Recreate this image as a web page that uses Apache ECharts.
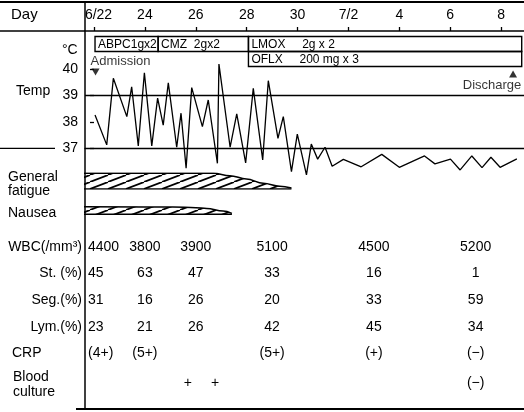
<!DOCTYPE html>
<html>
<head>
<meta charset="utf-8">
<script src="https://cdn.jsdelivr.net/npm/echarts@6/dist/echarts.min.js"></script>
<style>
  html, body {margin: 0; padding: 0; background: #fff;}
  #chart {width: 524px; height: 412px;}
</style>
</head>
<body>
<div id="chart"></div>
<script>
// day axis: days after 6/22
const dayTicks = [0, 2, 4, 6, 8, 10, 12, 14, 16];
const dayLabels = ['6/22', '24', '26', '28', '30', '7/2', '4', '6', '8'];

// body temperature (day offset, °C)
const tempDays = [0.04, 0.5, 0.76, 1.29, 1.48, 1.74, 1.98, 2.27, 2.5, 2.72, 2.92, 3.25, 3.42, 3.62,
  3.84, 4.26, 4.49, 4.85, 4.91, 5.35, 5.61, 5.96, 6.26, 6.63, 6.85, 7.23, 7.44, 7.76, 7.99, 8.35,
  8.54, 8.79, 9.08, 9.36, 9.8, 10.5, 11.31, 12.0, 12.99, 13.4, 14.01, 14.39, 14.85, 15.25, 15.6,
  15.96, 16.62];
const temps = [38.26, 37.13, 39.65, 38.2, 39.33, 37.09, 39.86, 37.09, 38.9, 37.88, 39.48, 37.04,
  38.33, 36.25, 39.3, 37.82, 38.83, 36.43, 40.19, 37.04, 38.3, 36.45, 39.27, 36.56, 39.56, 37.38,
  38.2, 36.12, 37.54, 35.99, 37.16, 36.59, 37.04, 36.32, 36.58, 36.3, 36.77, 36.28, 36.71, 36.41,
  36.59, 36.18, 36.71, 36.27, 36.66, 36.28, 36.6];

// drugs
const drugLabels = ['ABPC1gx2', 'CMZ  2gx2', 'LMOX     2g x 2', 'OFLX     200 mg x 3'];
const drugStart = [0.04, 2.52, 6.07, 6.07];
const drugEnd = [2.52, 6.07, 16.81, 16.81];
const drugRow = [0, 0, 0, 1];

// events
const eventNames = ['Admission', 'Discharge'];
const eventDays = [0.06, 16.47];
const eventTemps = [39.89, 39.81];

// symptoms (relative severity)
const fatigueDays = [-0.4, 4.69, 5.34, 5.99, 6.65, 7.3, 7.76];
const fatigue = [0.98, 0.98, 0.83, 0.63, 0.36, 0.17, 0.06];
const nauseaDays = [-0.4, 3.1, 4.0, 4.43, 5.07, 5.42];
const nausea = [0.47, 0.46, 0.41, 0.37, 0.2, 0.06];

// laboratory data
const labRows = ['WBC(/mm³)', 'St. (%)', 'Seg.(%)', 'Lym.(%)', 'CRP', 'Blood culture'];
const labDays = [0, 2, 4, 7, 11, 15];
const wbc = [4400, 3800, 3900, 5100, 4500, 5200];
const stab = [45, 63, 47, 33, 16, 1];
const seg = [31, 16, 26, 20, 33, 59];
const lym = [23, 21, 26, 42, 45, 34];
const crp = ['(4+)', '(5+)', '', '(5+)', '(+)', '(−)'];
const bloodDays = [3.69, 4.76, 15];
const blood = ['+', '+', '(−)'];

const FONT = '"Liberation Sans", Arial, sans-serif';
const xMin = -0.354, xMax = 16.9;
const LEFT = 85;

function hatch() {
  const c = document.createElement('canvas');
  c.width = 18; c.height = 7;
  const ctx = c.getContext('2d');
  ctx.strokeStyle = '#000';
  ctx.lineWidth = 1.7;
  [-18, 0, 18].forEach(function (dx) {
    ctx.beginPath();
    ctx.moveTo(dx, 7);
    ctx.lineTo(dx + 18, 0);
    ctx.stroke();
  });
  return {image: c, repeat: 'repeat'};
}
const pattern = hatch();

const labCells = [];
[wbc, stab, seg, lym, crp].forEach(function (row, r) {
  row.forEach(function (v, i) {
    if (v !== '') labCells.push({d: labDays[i], r: r, text: String(v), first: i === 0});
  });
});
blood.forEach(function (v, i) {
  labCells.push({d: bloodDays[i], r: 5, text: v, first: false});
});

const grids = [
  {left: LEFT, right: 0, top: 69.1, height: 79.2},   // temperature
  {left: LEFT, right: 0, top: 36.5, height: 30},     // drugs
  {left: LEFT, right: 0, top: 173, height: 16},      // fatigue
  {left: LEFT, right: 0, top: 198.3, height: 16},    // nausea
  {left: LEFT, right: 0, top: 233.3, height: 160.1}  // labs
];

function hiddenX(gi) {
  return {type: 'value', gridIndex: gi, min: xMin, max: xMax, show: false};
}

const bandLine = {color: '#000', width: 1.5};

const options = {
  backgroundColor: '#fff',
  animation: false,
  grid: grids,
  xAxis: [
    {
      type: 'value', gridIndex: 0, position: 'top', offset: 38.1, min: xMin, max: xMax,
      axisLine: {show: true, lineStyle: {color: '#000', width: 1.5}},
      axisTick: {show: true, length: 4, customValues: dayTicks, lineStyle: {color: '#000', width: 1.3}},
      axisLabel: {
        customValues: dayTicks, margin: 9, color: '#000', fontSize: 14, fontFamily: FONT,
        formatter: function (v) {
          const s = dayLabels[dayTicks.indexOf(v)];
          return v === 0 ? '{f|' + s + '}' : s;
        },
        rich: {f: {fontSize: 14, fontFamily: FONT, color: '#000', padding: [0, 0, 0, 9]}}
      },
      splitLine: {show: false}
    },
    {
      type: 'value', gridIndex: 0, position: 'bottom', min: xMin, max: xMax,
      axisLine: {show: true, lineStyle: {color: '#000', width: 1.3}},
      axisTick: {show: false}, axisLabel: {show: false}, splitLine: {show: false}
    },
    hiddenX(1), hiddenX(2), hiddenX(3), hiddenX(4)
  ],
  yAxis: [
    {
      type: 'value', gridIndex: 0, min: 37, max: 40, interval: 1,
      axisLine: {show: false},
      axisTick: {show: true, length: 4, lineStyle: {color: '#000', width: 1.3}},
      axisLabel: {color: '#000', fontSize: 14, fontFamily: FONT, margin: 7},
      splitLine: {show: false}
    },
    {type: 'category', gridIndex: 1, data: ['a', 'b'], inverse: true, show: false},
    {type: 'value', gridIndex: 2, min: 0, max: 1, show: false},
    {type: 'value', gridIndex: 3, min: 0, max: 1, show: false},
    {
      type: 'category', gridIndex: 4, data: labRows, inverse: true,
      axisLine: {show: false}, axisTick: {show: false}, splitLine: {show: false},
      axisLabel: {
        interval: 0, hideOverlap: false,
        align: 'left', margin: 73, color: '#000', fontSize: 14, fontFamily: FONT,
        formatter: function (v) {
          if (v === 'CRP') return '{l|' + v + '}';
          if (v === 'Blood culture') return '';
          return '{r|' + v + '}';
        },
        rich: {
          r: {width: 70, align: 'right', fontSize: 14, fontFamily: FONT, color: '#000'},
          l: {width: 70, align: 'left', fontSize: 14, fontFamily: FONT, color: '#000'}
        }
      }
    }
  ],
  series: [
    {
      type: 'line', xAxisIndex: 0, yAxisIndex: 0, clip: false,
      data: tempDays.map(function (d, i) { return [d, temps[i]]; }),
      showSymbol: false, lineStyle: {color: '#000', width: 1.3},
      markLine: {
        silent: true, symbol: 'none', label: {show: false},
        lineStyle: {color: '#000', width: 1.3, type: 'solid'},
        data: [{yAxis: 39}]
      }
    },
    {
      type: 'scatter', xAxisIndex: 0, yAxisIndex: 0, clip: false,
      symbol: 'triangle', symbolSize: [8, 7],
      itemStyle: {color: '#000'},
      data: eventDays.map(function (d, i) {
        return {
          value: [d, eventTemps[i]],
          symbolRotate: i === 0 ? 180 : 0,
          label: {
            show: true, formatter: eventNames[i], color: '#000', fontSize: 13, fontFamily: FONT,
            position: i === 0 ? 'top' : 'bottom', distance: 1,
            offset: i === 0 ? [25, 0] : [-21, 0]
          }
        };
      })
    },
    {
      type: 'custom', xAxisIndex: 2, yAxisIndex: 1,
      data: drugStart.map(function (s, i) { return [s, drugEnd[i], drugRow[i]]; }),
      renderItem: function (params, api) {
        const p0 = api.coord([api.value(0), api.value(2)]);
        const p1 = api.coord([api.value(1), api.value(2)]);
        const h = api.size([0, 1])[1];
        return {
          type: 'group',
          children: [
            {
              type: 'rect',
              shape: {x: p0[0], y: p0[1] - h / 2, width: p1[0] - p0[0], height: h},
              style: {fill: 'none', stroke: '#000', lineWidth: 1.4}
            },
            {
              type: 'text',
              style: {
                x: p0[0] + 3, y: p0[1] + 0.5, text: drugLabels[params.dataIndex],
                font: '12px ' + FONT, fill: '#000', verticalAlign: 'middle', align: 'left'
              }
            }
          ]
        };
      }
    },
    {
      type: 'line', xAxisIndex: 3, yAxisIndex: 2, smooth: 0.4, smoothMonotone: 'x',
      data: fatigueDays.map(function (d, i) { return [d, fatigue[i]]; }),
      showSymbol: false, lineStyle: bandLine,
      areaStyle: {color: pattern, origin: 'start', opacity: 1}
    },
    {
      type: 'line', xAxisIndex: 3, yAxisIndex: 2, showSymbol: false, lineStyle: bandLine,
      data: [[fatigueDays[0], 0], [fatigueDays[fatigueDays.length - 1], 0]]
    },
    {
      type: 'line', xAxisIndex: 4, yAxisIndex: 3, smooth: 0.4, smoothMonotone: 'x',
      data: nauseaDays.map(function (d, i) { return [d, nausea[i]]; }),
      showSymbol: false, lineStyle: bandLine,
      areaStyle: {color: pattern, origin: 'start', opacity: 1}
    },
    {
      type: 'line', xAxisIndex: 4, yAxisIndex: 3, showSymbol: false, lineStyle: bandLine,
      data: [[nauseaDays[0], 0], [nauseaDays[nauseaDays.length - 1], 0]]
    },
    {
      type: 'custom', xAxisIndex: 5, yAxisIndex: 4,
      data: labCells.map(function (c) { return [c.d, c.r]; }),
      renderItem: function (params, api) {
        const c = labCells[params.dataIndex];
        const p = api.coord([api.value(0), api.value(1)]);
        return {
          type: 'text',
          style: {
            x: c.first ? p[0] - 6 : p[0], y: c.r === 5 ? p[1] + 3 : p[1], text: c.text,
            font: '14px ' + FONT, fill: '#000',
            align: c.first ? 'left' : 'center', verticalAlign: 'middle'
          }
        };
      }
    }
  ],
  graphic: [
    {type: 'line', z: 100, shape: {x1: 0, y1: 2, x2: 524, y2: 2}, style: {stroke: '#000', lineWidth: 2}},
    {type: 'line', z: 100, shape: {x1: 0, y1: 31, x2: LEFT, y2: 31}, style: {stroke: '#000', lineWidth: 1.5}},
    {type: 'line', z: 100, shape: {x1: LEFT, y1: 2, x2: LEFT, y2: 410}, style: {stroke: '#000', lineWidth: 1.5}},
    {type: 'line', z: 100, shape: {x1: 76, y1: 409, x2: 524, y2: 409}, style: {stroke: '#000', lineWidth: 2}},
    {type: 'line', z: 100, shape: {x1: 0, y1: 148.3, x2: 55, y2: 148.3}, style: {stroke: '#000', lineWidth: 1.3}},
    {type: 'text', z: 100, x: 11, y: 15, style: {text: 'Day', font: '15px ' + FONT, fill: '#000', verticalAlign: 'middle'}},
    {type: 'text', z: 100, x: 62, y: 50, style: {text: '°C', font: '14px ' + FONT, fill: '#000', verticalAlign: 'middle'}},
    {type: 'text', z: 100, x: 16, y: 91, style: {text: 'Temp', font: '14px ' + FONT, fill: '#000', verticalAlign: 'middle'}},
    {type: 'text', z: 100, x: 8, y: 184, style: {text: 'General\nfatigue', font: '14px ' + FONT, lineHeight: 14, fill: '#000', verticalAlign: 'middle'}},
    {type: 'text', z: 100, x: 8, y: 213, style: {text: 'Nausea', font: '14px ' + FONT, fill: '#000', verticalAlign: 'middle'}},
    {type: 'text', z: 100, x: 13, y: 385, style: {text: 'Blood\nculture', font: '14px ' + FONT, lineHeight: 15, fill: '#000', verticalAlign: 'middle'}}
  ]
};

const myChart = echarts.init(document.getElementById('chart'), null, {renderer: 'canvas'});
myChart.setOption(options);
</script>
</body>
</html>
